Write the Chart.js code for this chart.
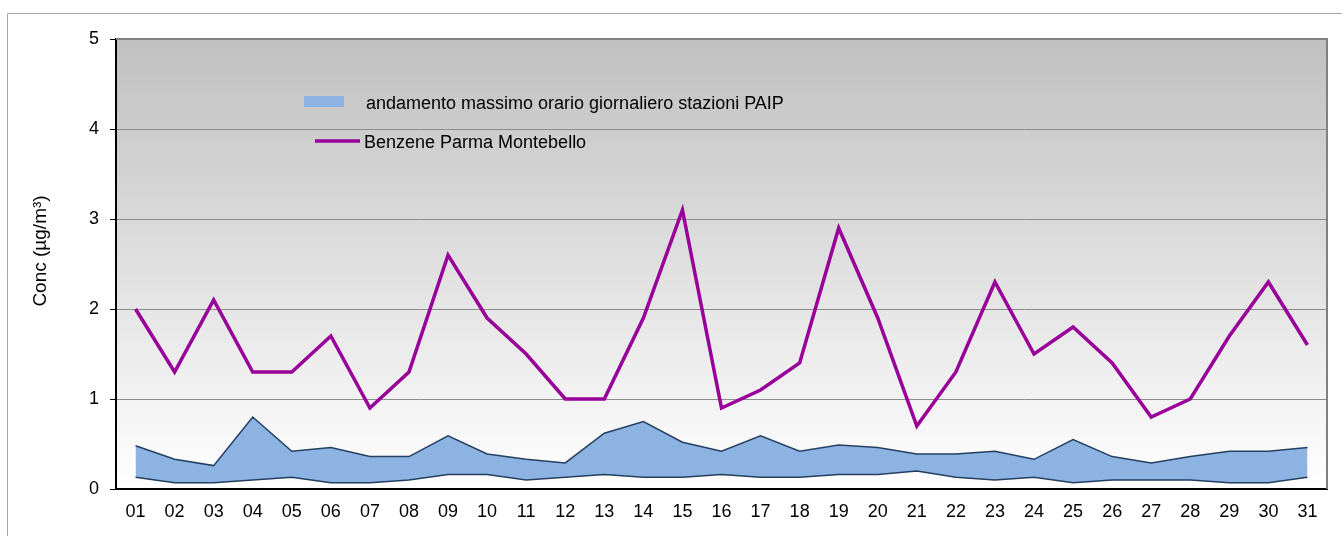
<!DOCTYPE html>
<html>
<head>
<meta charset="utf-8">
<script src="https://cdn.jsdelivr.net/npm/chart.js@4"></script>
<style>
  html, body { margin: 0; padding: 0; background: #ffffff; }
  #wrap { position: relative; width: 1343px; height: 536px; }
</style>
</head>
<body>
<div id="wrap"><canvas id="benzChart"></canvas></div>
<script>
// ── dati ─────────────────────────────────────────────────────────────
var days = ["01","02","03","04","05","06","07","08","09","10","11","12","13","14","15","16",
            "17","18","19","20","21","22","23","24","25","26","27","28","29","30","31"];

// Benzene Parma Montebello (µg/m³)
var benzene = [2.0, 1.3, 2.1, 1.3, 1.3, 1.7, 0.9, 1.3, 2.6, 1.9, 1.5, 1.0, 1.0, 1.9, 3.1, 0.9,
               1.1, 1.4, 2.9, 1.9, 0.7, 1.3, 2.3, 1.5, 1.8, 1.4, 0.8, 1.0, 1.7, 2.3, 1.6];

// fascia stazioni PAIP: minimo e massimo
var paipMin = [0.13, 0.07, 0.07, 0.10, 0.13, 0.07, 0.07, 0.10, 0.16, 0.16, 0.10, 0.13, 0.16, 0.13, 0.13, 0.16,
               0.13, 0.13, 0.16, 0.16, 0.20, 0.13, 0.10, 0.13, 0.07, 0.10, 0.10, 0.10, 0.07, 0.07, 0.13];
var paipMax = [0.48, 0.33, 0.26, 0.80, 0.42, 0.46, 0.36, 0.36, 0.59, 0.39, 0.33, 0.29, 0.62, 0.75, 0.52, 0.42,
               0.59, 0.42, 0.49, 0.46, 0.39, 0.39, 0.42, 0.33, 0.55, 0.36, 0.29, 0.36, 0.42, 0.42, 0.46];

var yMin = 0, yMax = 5, yStep = 1;

var legendBand = "andamento massimo orario giornaliero stazioni PAIP";
var legendLine = "Benzene Parma Montebello";
var yTitle = "Conc (\u00b5g/m\u00b3)";

var FONT = "'Liberation Sans', Arial, sans-serif";

// sfondo sfumato + cornici
var framePlugin = {
  id: "frame",
  beforeDraw: function(chart) {
    var ctx = chart.ctx, a = chart.chartArea;
    ctx.save();
    ctx.strokeStyle = "#a6a6a6";
    ctx.lineWidth = 1;
    ctx.beginPath();
    ctx.moveTo(7.5, 536);
    ctx.lineTo(7.5, 13.5);
    ctx.lineTo(1342, 13.5);
    ctx.stroke();
    var g = ctx.createLinearGradient(0, a.top, 0, a.bottom);
    g.addColorStop(0, "#c0c0c0");
    g.addColorStop(1, "#ffffff");
    ctx.fillStyle = g;
    ctx.fillRect(a.left, a.top, a.right - a.left, a.bottom - a.top);
    ctx.restore();
  },
  afterDraw: function(chart) {
    var ctx = chart.ctx, a = chart.chartArea;
    ctx.save();
    ctx.strokeStyle = "#808080";
    ctx.lineWidth = 2;
    ctx.beginPath();
    ctx.moveTo(a.left, a.top);
    ctx.lineTo(a.right, a.top);
    ctx.lineTo(a.right, a.bottom);
    ctx.stroke();
    // titolo asse y
    ctx.fillStyle = "#000";
    ctx.font = "19px " + FONT;
    ctx.textAlign = "center";
    ctx.textBaseline = "middle";
    ctx.translate(41, 251);
    ctx.rotate(-Math.PI / 2);
    ctx.fillText(yTitle, 0, 0);
    ctx.restore();
  },
};

// legenda dentro l'area del grafico
var legendPlugin = {
  id: "innerLegend",
  afterDatasetsDraw: function(chart) {
    var ctx = chart.ctx;
    ctx.save();
    ctx.fillStyle = "#8db3e2";
    ctx.fillRect(304, 96, 40, 11);
    ctx.lineWidth = 3.5;
    ctx.strokeStyle = "#990099";
    ctx.beginPath();
    ctx.moveTo(315, 141);
    ctx.lineTo(360, 141);
    ctx.stroke();
    ctx.fillStyle = "#000";
    ctx.font = "18px " + FONT;
    ctx.textAlign = "left";
    ctx.textBaseline = "alphabetic";
    ctx.fillText(legendBand, 366, 109);
    ctx.fillText(legendLine, 364, 148);
    ctx.restore();
  },
};

new Chart(document.getElementById("benzChart").getContext("2d"), {
  type: "line",
  data: {
    labels: days,
    datasets: [
      {
        label: legendLine,
        data: benzene,
        borderColor: "#990099",
        borderWidth: 3.5,
        pointRadius: 0,
        tension: 0,
        fill: false,
      },
      {
        label: "min PAIP",
        data: paipMin,
        borderColor: "#243f60",
        borderWidth: 1.5,
        pointRadius: 0,
        tension: 0,
        fill: false,
      },
      {
        label: legendBand,
        data: paipMax,
        borderColor: "#243f60",
        backgroundColor: "#8db3e2",
        borderWidth: 1.5,
        pointRadius: 0,
        tension: 0,
        fill: "-1",
      },
    ],
  },
  options: {
    responsive: true, maintainAspectRatio: false,
    animation: false,
    layout: { padding: { left: 0, top: 39, right: 16, bottom: 0 } },
    plugins: {
      legend: { display: false },
      tooltip: { enabled: false },
    },
    scales: {
      x: {
        offset: true,
        grid: { display: false, drawTicks: false },
        border: { display: true, color: "#000", width: 2 },
        ticks: { color: "#000", font: { family: FONT, size: 18 }, padding: 12, maxRotation: 0, autoSkip: false },
        afterFit: function(s) { s.height = 47; },
      },
      y: {
        min: yMin, max: yMax,
        grid: {
          color: function(c) { return (c.tick.value === yMin || c.tick.value === yMax) ? "rgba(0,0,0,0)" : "#8c8c8c"; },
          tickColor: "#000",
          tickLength: 6,
        },
        border: { display: true, color: "#000", width: 2 },
        ticks: { stepSize: yStep, color: "#000", font: { family: FONT, size: 18 }, padding: 11 },
        afterFit: function(s) { s.width = 116; },
      },
    },
  },
  plugins: [framePlugin, legendPlugin],
});
</script>
</body>
</html>
